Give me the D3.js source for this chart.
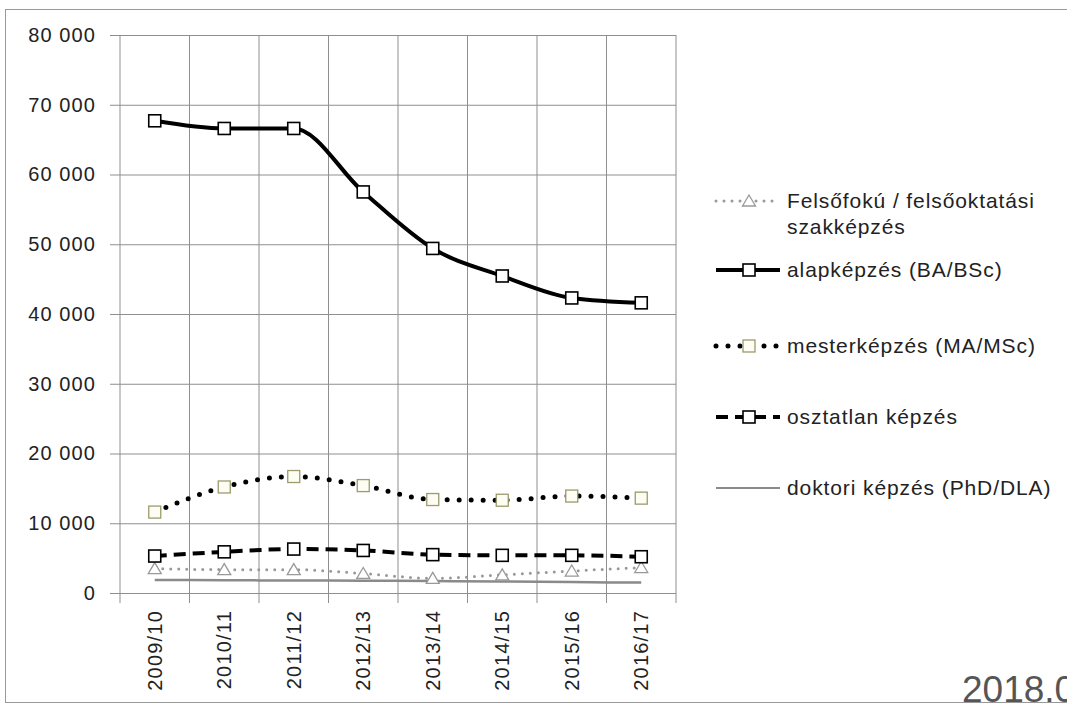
<!DOCTYPE html>
<html>
<head>
<meta charset="utf-8">
<script src="https://cdnjs.cloudflare.com/ajax/libs/d3/7.8.5/d3.min.js"></script>
<style>
  body { margin: 0; background: #fff; }
  text { font-family: "Liberation Sans", Arial, sans-serif; }
</style>
</head>
<body>
<div id="chart"></div>
<script>
// Data
var years = ["2009/10", "2010/11", "2011/12", "2012/13", "2013/14", "2014/15", "2015/16", "2016/17"];
var felsofoku = [3500, 3350, 3350, 2800, 2100, 2600, 3150, 3650];
var alapkepzes = [67700, 66600, 66600, 57500, 49400, 45450, 42300, 41600];
var mesterkepzes = [11600, 15200, 16700, 15400, 13400, 13300, 13900, 13600];
var osztatlan = [5300, 5900, 6300, 6100, 5500, 5400, 5400, 5200];
var doktori = [1870, 1830, 1790, 1760, 1720, 1640, 1560, 1490];
var yTicks = [0, 10000, 20000, 30000, 40000, 50000, 60000, 70000, 80000];
var seriesNames = ["Felsőfokú / felsőoktatási szakképzés", "alapképzés (BA/BSc)",
  "mesterképzés (MA/MSc)", "osztatlan képzés", "doktori képzés (PhD/DLA)"];

var svgWidth = 1067;
var svgHeight = 705;

var margin = { top: 35, left: 120 };
var width = 556;
var height = 558;

var svg = d3.select("#chart")
  .append("svg")
  .attr("width", svgWidth)
  .attr("height", svgHeight);

// outer chart frame
svg.append("rect")
  .attr("x", 5.5).attr("y", 9.5)
  .attr("width", 1080).attr("height", 693)
  .attr("fill", "none")
  .attr("stroke", "#999")
  .attr("stroke-width", 1);

var chartGroup = svg.append("g")
  .attr("transform", `translate(${margin.left}, ${margin.top})`);

// Scales
var xBand = d3.scaleBand().domain(years).range([0, width]);
var yScale = d3.scaleLinear().domain([0, 80000]).range([height, 0]);
var xMid = d => xBand(d) + xBand.bandwidth() / 2;

var gridColor = "#8f8f8f";

// horizontal gridlines + y ticks
var yAxis = d3.axisLeft(yScale)
  .tickValues(yTicks)
  .tickSize(0)
  .tickPadding(24)
  .tickFormat(d => d3.format(",")(d).replace(",", " "));

chartGroup.append("g")
  .call(yAxis)
  .call(g => g.select(".domain").remove())
  .call(g => g.selectAll(".tick line")
    .attr("stroke", gridColor)
    .attr("x1", -10)
    .attr("x2", width))
  .call(g => g.selectAll(".tick text")
    .attr("fill", "#222")
    .style("font-size", "20px")
    .style("letter-spacing", "1.1px"));

// vertical category gridlines (band boundaries)
var bounds = years.map(d => xBand(d)).concat([width]);
chartGroup.selectAll("line.vgrid")
  .data(bounds)
  .enter()
  .append("line")
  .attr("class", "vgrid")
  .attr("x1", d => d).attr("x2", d => d)
  .attr("y1", 0).attr("y2", height + 10)
  .attr("stroke", gridColor);

// x labels, rotated
chartGroup.selectAll("text.xlab")
  .data(years)
  .enter()
  .append("text")
  .attr("class", "xlab")
  .attr("transform", d => `translate(${xMid(d) + 7}, ${height + 17}) rotate(-90)`)
  .attr("text-anchor", "end")
  .style("font-size", "20px")
  .style("letter-spacing", "1.2px")
  .attr("fill", "#222")
  .text(d => d);

// Lines
var line = d3.line()
  .x((d, i) => xMid(years[i]))
  .y(d => yScale(d))
  .curve(d3.curveMonotoneX);

var styles = [
  { data: felsofoku, stroke: "#999", width: 3, dash: "0,8", cap: "round", marker: "tri" },
  { data: alapkepzes, stroke: "#000", width: 4, dash: null, cap: "butt", marker: "sq" },
  { data: mesterkepzes, stroke: "#000", width: 5, dash: "0,12", cap: "round", marker: "sqo" },
  { data: osztatlan, stroke: "#000", width: 4, dash: "12,7", cap: "butt", marker: "sq" },
  { data: doktori, stroke: "#8a8a8a", width: 2.5, dash: null, cap: "butt", marker: null }
];

// draw back-to-front so the BA line sits on top
[4, 0, 3, 2, 1].forEach(function (k) {
  var s = styles[k];
  chartGroup.append("path")
    .datum(s.data)
    .attr("d", line)
    .attr("fill", "none")
    .attr("stroke", s.stroke)
    .attr("stroke-width", s.width)
    .attr("stroke-linecap", s.cap)
    .attr("stroke-dasharray", s.dash);
  drawMarkers(chartGroup, s, s.data.map((v, i) => [xMid(years[i]), yScale(v)]));
});

function drawMarkers(g, s, pts) {
  if (s.marker === "sq" || s.marker === "sqo") {
    g.selectAll(null)
      .data(pts)
      .enter()
      .append("rect")
      .attr("x", d => d[0] - 6).attr("y", d => d[1] - 6)
      .attr("width", 12).attr("height", 12)
      .attr("fill", s.marker === "sq" ? "#fff" : "#fdfdf3")
      .attr("stroke", s.marker === "sq" ? "#000" : "#9b9b6e")
      .attr("stroke-width", s.marker === "sq" ? 1.6 : 1.3);
  } else if (s.marker === "tri") {
    g.selectAll(null)
      .data(pts)
      .enter()
      .append("path")
      .attr("d", d => `M${d[0]},${d[1] - 6}L${d[0] + 6.5},${d[1] + 5}L${d[0] - 6.5},${d[1] + 5}Z`)
      .attr("fill", "#fff")
      .attr("stroke", "#999")
      .attr("stroke-width", 1.3);
  }
}

// Legend
var legendY = [201, 270, 346, 417, 488];
var legend = svg.append("g");
styles.forEach(function (s, k) {
  var y = legendY[k];
  legend.append("line")
    .attr("x1", 716).attr("x2", 780)
    .attr("y1", y).attr("y2", y)
    .attr("stroke", s.stroke)
    .attr("stroke-width", k === 4 ? 2 : s.width)
    .attr("stroke-linecap", s.cap)
    .attr("stroke-dasharray", s.dash);
  drawMarkers(legend, s, [[749, y]]);
  var t = legend.append("text")
    .attr("x", 787)
    .attr("y", y + 7)
    .style("font-size", "21px")
    .style("letter-spacing", "0.9px")
    .attr("fill", "#222");
  if (k === 0) {
    t.append("tspan").attr("x", 787).text("Felsőfokú / felsőoktatási");
    t.append("tspan").attr("x", 787).attr("dy", 26).text("szakképzés");
  } else {
    t.text(seriesNames[k]);
  }
});

// cut-off date stamp at the bottom right
svg.append("text")
  .attr("x", 962)
  .attr("y", 702)
  .style("font-size", "37px")
  .attr("fill", "#555")
  .text("2018.0");
</script>
</body>
</html>
